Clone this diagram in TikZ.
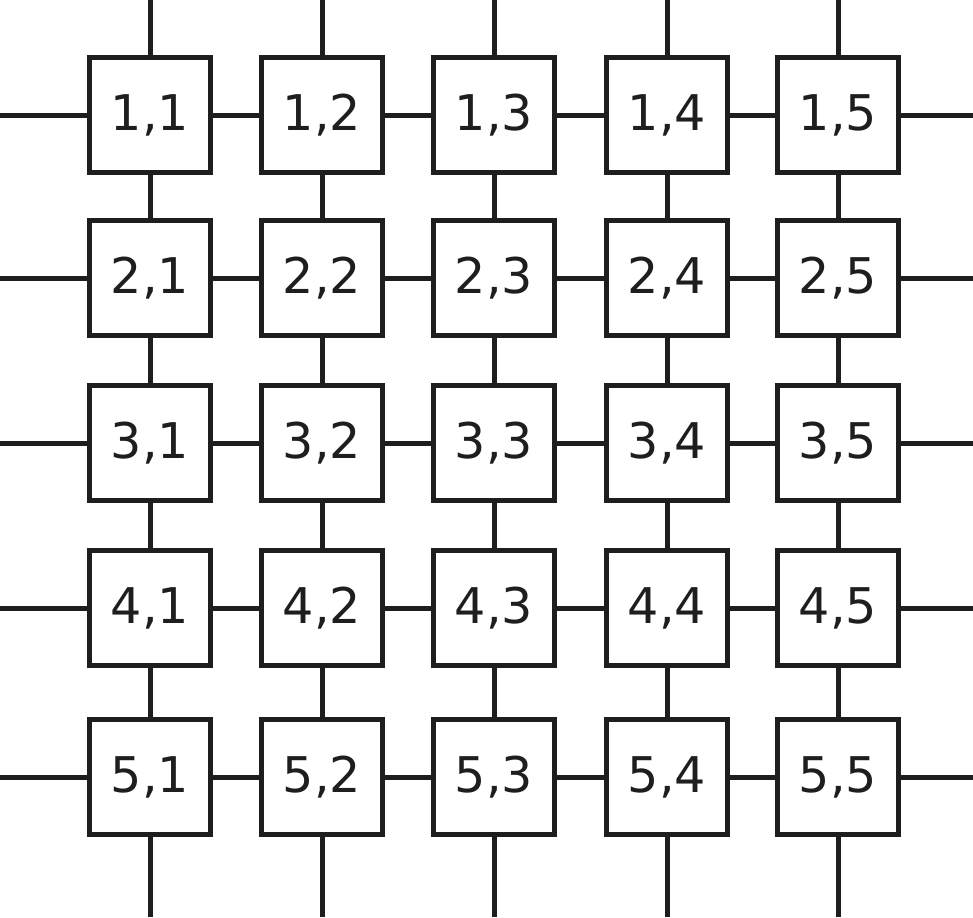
\documentclass[tikz,border=0pt]{standalone}
\usepackage{fontspec}
\setmainfont{DejaVu Sans}
\usepackage{xcolor}
\usetikzlibrary{positioning}

\definecolor{ink}{HTML}{1E1E1E}

\tikzset{
  cell/.style={draw=ink, line width=1mm, fill=white, minimum width=2.42cm,
    minimum height=2.3cm, inner sep=0pt, text=ink,
    font=\fontsize{28}{30}\selectfont},
  wire/.style={draw=ink, line width=1mm},
}

\begin{document}
\begin{tikzpicture}[x=0.02cm, y=-0.02cm]
  \useasboundingbox (0,0) rectangle (973,917);

  % Cells of the mesh
  \foreach \r/\y in {1/115, 2/278, 3/443, 4/608, 5/777}
    \foreach \c/\x in {1/150, 2/322, 3/494, 4/667, 5/838}
      \node[cell] (c\r\c) at (\x,\y) {\r,\c};

  % Free ends on the border
  \foreach \i/\x in {1/150, 2/322, 3/494, 4/667, 5/838} {
    \coordinate (top\i) at (\x,0);
    \coordinate (bot\i) at (\x,917);
  }
  \foreach \i/\y in {1/115, 2/278, 3/443, 4/608, 5/777} {
    \coordinate (left\i) at (0,\y);
    \coordinate (right\i) at (973,\y);
  }

  % Row links
  \foreach \r in {1,...,5} {
    \draw[wire] (left\r) -- (c\r1);
    \draw[wire] (c\r5) -- (right\r);
    \foreach \c [evaluate=\c as \nxt using int(\c+1)] in {1,...,4}
      \draw[wire] (c\r\c) -- (c\r\nxt);
  }

  % Column links
  \foreach \c in {1,...,5} {
    \draw[wire] (top\c) -- (c1\c);
    \draw[wire] (c5\c) -- (bot\c);
    \foreach \r [evaluate=\r as \nxt using int(\r+1)] in {1,...,4}
      \draw[wire] (c\r\c) -- (c\nxt\c);
  }
\end{tikzpicture}
\end{document}
